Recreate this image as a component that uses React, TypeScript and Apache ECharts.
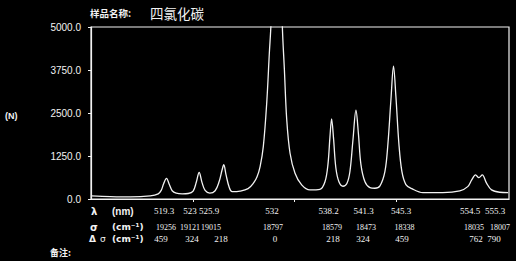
import React, { useEffect, useRef } from "react";
import * as echarts from "echarts";

// Spectrum (wavelength in nm, intensity in counts)
const wavelengthNm = [
  510.69, 512.86, 515.15, 517.44, 518.35, 518.69, 518.98, 519.3, 519.61, 519.95,
  520.41, 521.1, 521.78, 522.35, 522.7, 523.04, 523.38, 523.72, 524.26, 524.87,
  525.32, 525.67, 525.86, 526.12, 526.47, 526.81, 527.73, 528.64, 529.25, 529.67,
  530.02, 530.39, 530.78, 531.08, 531.27, 531.5, 531.96, 532.4, 532.57, 532.8,
  533.07, 533.45, 534.02, 534.78, 535.73, 536.87, 537.45, 537.79, 538.02, 538.21,
  538.42, 538.7, 539.05, 539.51, 539.96, 540.31, 540.65, 541.0, 541.28, 541.57,
  542.03, 542.6, 543.17, 543.75, 544.32, 544.66, 545.01, 545.3, 545.57, 545.92,
  546.26, 546.72, 547.4, 548.66, 550.95, 552.89, 553.8, 554.26, 554.7, 555.08,
  555.47, 555.96, 556.53, 557.45, 558.43,
];
const intensity = [
  90, 70, 60, 90, 150, 250, 450, 600, 430, 240,
  170, 150, 160, 230, 480, 770, 470, 250, 170, 240,
  500, 850, 995, 700, 350, 215, 230, 300, 460, 650,
  944, 1530, 2800, 4250, 5100, 7000, 9500, 7000, 5000, 3770,
  2310, 1330, 750, 410, 265, 280, 500, 1000, 1800, 2330,
  1800, 900, 500, 370, 450, 800, 1700, 2580, 1900, 1000,
  500, 330, 312, 380, 800, 1600, 2900, 3860, 3000, 1600,
  800, 420, 300, 185, 185, 235, 360, 555, 700, 620,
  700, 460, 265, 196, 185,
];

// Tick values
const yTicks = [0, 1250, 2500, 3750, 5000];
const xTickNm = [522.35, 533.9, 545.57];

// Table under the chart
const lambdaLabels = ["519.3", "523", "525.9", "532", "538.2", "541.3", "545.3", "554.5", "555.3"];
const sigmaLabels = ["19256", "19121", "19015", "18797", "18579", "18473", "18338", "18035", "18007"];
const deltaLabels = ["459", "324", "218", "0", "218", "324", "459", "762", "790"];

// Layout of table columns (pixel centres)
const row1X = [164, 190, 209, 272, 328.5, 363.5, 401, 470, 495];
const row2X = [166, 190, 211, 273, 332, 366, 404.5, 474, 500];
const row3X = [161, 192, 221, 275, 333, 363, 402, 476, 494];

export default function App() {
  const ref = useRef<HTMLDivElement>(null);
  useEffect(() => {
    if (!ref.current) return;
    const chart = echarts.init(ref.current, undefined, { renderer: "svg" });
    const white = "#f2f2f2";
    const numFont = "Liberation Serif";
    const txt = (text: string, x: number, y: number, extra: any = {}) => ({
      type: "text",
      x,
      y,
      style: {
        text,
        fill: white,
        font: `9px "${numFont}"`,
        align: "center",
        verticalAlign: "middle",
        ...extra,
      },
    });
    const graphics: any[] = [
      txt("样品名称:", 90, 12.5, { align: "left", font: 'bold 9.5px "Noto Sans CJK SC"' }),
      txt("四氯化碳", 150, 12.5, { align: "left", font: '13.5px "Noto Sans CJK SC"' }),
      txt("(N)", 5, 116, { align: "left", font: 'bold 9px "Liberation Sans"' }),
      txt("λ", 91, 211, { align: "left", font: 'bold 10px "DejaVu Sans"' }),
      txt("(nm)", 112, 211, { align: "left", font: 'bold 10px "Liberation Sans"' }),
      txt("σ", 90, 227, { align: "left", font: 'bold 10px "DejaVu Sans"' }),
      txt("(cm⁻¹)", 112, 227, { align: "left", font: 'bold 9px "DejaVu Sans"' }),
      txt("Δ", 89, 238.5, { align: "left", font: 'bold 9px "DejaVu Sans"' }),
      txt("σ", 100, 238.5, { align: "left", font: '9px "DejaVu Sans"' }),
      txt("(cm⁻¹)", 112, 238.5, { align: "left", font: 'bold 9px "DejaVu Sans"' }),
      txt("备注:", 50, 252, { align: "left", font: 'bold 9px "Noto Sans CJK SC"' }),
    ];
    lambdaLabels.forEach((t, i) => graphics.push(txt(t, row1X[i], 211)));
    sigmaLabels.forEach((t, i) => graphics.push(txt(t, row2X[i], 227, { font: `8px "${numFont}"` })));
    deltaLabels.forEach((t, i) => graphics.push(txt(t, row3X[i], 238.5)));

    chart.setOption({
      animation: false,
      backgroundColor: "#000",
      grid: {
        left: 91,
        top: 27,
        right: 7,
        bottom: 62,
        show: true,
        borderColor: white,
        borderWidth: 1.2,
        backgroundColor: "transparent",
      },
      xAxis: {
        type: "value",
        min: 510.65,
        max: 558.53,
        axisLine: { show: true, lineStyle: { color: white, width: 1.2 } },
        axisTick: {
          show: true,
          customValues: xTickNm,
          length: 3,
          inside: false,
          lineStyle: { color: white },
        },
        axisLabel: { show: false },
        splitLine: { show: false },
      },
      yAxis: {
        type: "value",
        min: 0,
        max: 5000,
        interval: 1250,
        axisLine: { show: true, lineStyle: { color: white, width: 1.2 } },
        axisTick: { show: true, length: 3, lineStyle: { color: white } },
        axisLabel: {
          show: true,
          color: white,
          fontFamily: "Liberation Sans",
          fontSize: 10,
          margin: 10,
          customValues: yTicks,
          formatter: (v: number) => v.toFixed(1),
        },
        splitLine: { show: false },
      },
      series: [
        {
          type: "line",
          data: wavelengthNm.map((x, i) => [x, intensity[i]]),
          showSymbol: false,
          symbol: "none",
          smooth: 0.35,
          clip: true,
          lineStyle: { color: white, width: 1.3 },
        },
      ],
      graphic: graphics,
    });
    return () => chart.dispose();
  }, []);
  return (
    <div
      ref={ref}
      style={{ position: "fixed", left: 0, top: 0, width: 516, height: 261, background: "#000" }}
    />
  );
}
